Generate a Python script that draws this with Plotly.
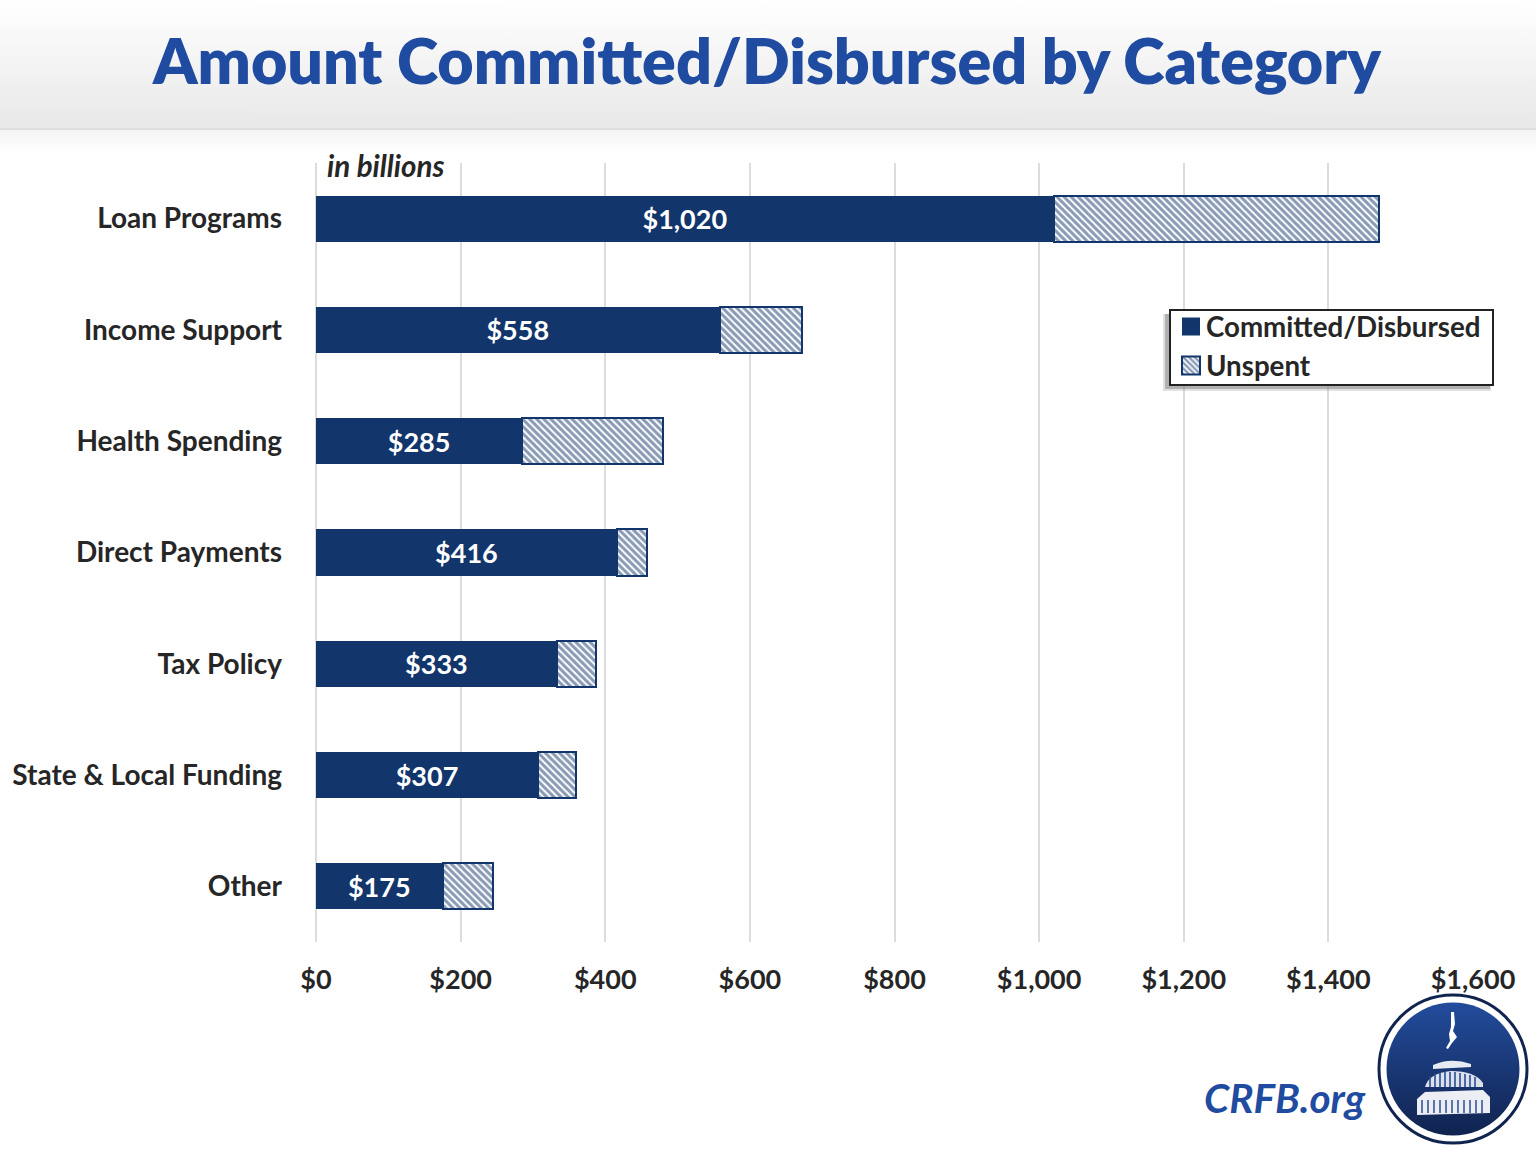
import base64
import plotly.graph_objects as go

categories = ["Loan Programs", "Income Support", "Health Spending", "Direct Payments",
              "Tax Policy", "State & Local Funding", "Other"]
committed = [1020, 558, 285, 416, 333, 307, 175]
unspent = [450, 114, 195, 42, 54, 53, 70]
tick_values = [0, 200, 400, 600, 800, 1000, 1200, 1400, 1600]
tick_labels = ["$0", "$200", "$400", "$600", "$800", "$1,000", "$1,200", "$1,400", "$1,600"]
committed_labels = ["$1,020", "$558", "$285", "$416", "$333", "$307", "$175"]

W, H = 1536, 1150
L, R, T, B = 316, 63, 163, 208
NAVY = "#12356b"
BLUE = "#1f4ba0"
INK = "#262626"
FONT = "Lato"


def px(x):
    return (x - L) / (W - L - R)


def py(y):
    return 1 - (y - T) / (H - T - B)


def uri(svg):
    return "data:image/svg+xml;base64," + base64.b64encode(svg.encode()).decode()


header_svg = """<svg xmlns="http://www.w3.org/2000/svg" width="1536" height="170" viewBox="0 0 1536 170">
<defs><linearGradient id="a" x1="0" y1="0" x2="0" y2="1"><stop offset="0" stop-color="#ffffff"/><stop offset="1" stop-color="#e8e8e8"/></linearGradient>
<linearGradient id="b" x1="0" y1="0" x2="0" y2="1"><stop offset="0" stop-color="#f3f3f3"/><stop offset="1" stop-color="#ffffff"/></linearGradient></defs>
<rect width="1536" height="128" fill="url(#a)"/><rect y="128" width="1536" height="2" fill="#dddddd"/><rect y="130" width="1536" height="24" fill="url(#b)"/></svg>"""

logo_svg = """<svg xmlns="http://www.w3.org/2000/svg" width="160" height="160" viewBox="0 0 160 160">
<defs><linearGradient id="g" x1="0" y1="0" x2="0" y2="1"><stop offset="0" stop-color="#234c9c"/><stop offset="1" stop-color="#10234f"/></linearGradient></defs>
<circle cx="80" cy="80" r="74" fill="#ffffff" stroke="#10244f" stroke-width="3"/>
<circle cx="80" cy="80" r="66.5" fill="url(#g)"/>
<path d="M78 23 L81 23 L82 35 L80 42 L84 48 L79 54 L75 60 L73 59 L77 52 L76 45 L78 38 Z" fill="#fff"/>
<path d="M60 76 Q78 68 98 75 L98 78 L60 80 Z" fill="#fff" opacity="0.9"/>
<path d="M52 98 Q56 84 78 82 Q102 82 110 94 L110 98 Z" fill="#fff" opacity="0.85"/>
<g stroke="#2a4f96" stroke-width="1.6"><path d="M57 87V98M62 85V98M67 84V98M72 83V98M77 83V98M82 83V98M87 84V98M92 85V98M97 86V98M102 88V98"/></g>
<path d="M44 110 L52 103 L110 101 L117 108 L117 124 L44 126 Z" fill="#fff" opacity="0.92"/>
<g stroke="#2a4f96" stroke-width="1.5"><path d="M49 111V124M55 111V124M61 111V124M67 111V124M73 111V124M79 111V124M85 111V124M91 111V124M97 111V124M103 111V124M109 111V124"/></g>
</svg>"""

fig = go.Figure()
fig.add_bar(
    name="Committed/Disbursed", y=categories, x=committed, orientation="h",
    marker=dict(color=NAVY, line=dict(width=0)),
    text=committed_labels, textposition="inside", insidetextanchor="middle",
    textangle=0, textfont=dict(family=FONT, size=27, color="white", weight="bold"),
    hoverinfo="x+y",
)
fig.add_bar(
    name="Unspent", y=categories, x=unspent, orientation="h",
    marker=dict(color="white", line=dict(color=NAVY, width=2),
                pattern=dict(shape="\\", fgcolor=NAVY, bgcolor="white", size=5, solidity=0.6)),
    hoverinfo="x+y",
)

annotations = [
    dict(text="Amount Committed/Disbursed by Category", xref="paper", yref="paper",
         x=px(767), y=py(60), xanchor="center", yanchor="middle", showarrow=False,
         font=dict(family=FONT, size=62.7, color=BLUE, weight=800)),
    dict(text="<b><i>in billions</i></b>", xref="paper", yref="paper",
         x=px(325), y=py(165), xanchor="left", yanchor="middle", showarrow=False,
         font=dict(family=FONT, size=29.5, color=INK)),
    dict(text="<b><i>CRFB.org</i></b>", xref="paper", yref="paper",
         x=px(1202), y=py(1097), xanchor="left", yanchor="middle", showarrow=False,
         font=dict(family=FONT, size=40.5, color=BLUE)),
]

images = [
    dict(source=uri(header_svg), xref="paper", yref="paper", x=px(0), y=py(0),
         sizex=W / (W - L - R), sizey=170 / (H - T - B), xanchor="left", yanchor="top",
         sizing="stretch", layer="below"),
    dict(source=uri(logo_svg), xref="paper", yref="paper", x=px(1373), y=py(989),
         sizex=160 / (W - L - R), sizey=160 / (H - T - B), xanchor="left", yanchor="top",
         sizing="stretch", layer="above"),
]


def box(x0, y0, x1, y1, fill, line=None):
    return dict(type="rect", xref="paper", yref="paper", x0=px(x0), x1=px(x1), y0=py(y0), y1=py(y1),
                fillcolor=fill, line=line or dict(width=0), layer="above")


shapes = [
    box(1163, 314, 1491, 391, "rgba(120,120,120,0.22)"),
    box(1165, 314, 1490, 389, "rgba(90,90,90,0.35)"),
    box(1170, 310, 1493, 385, "white", dict(color="#222222", width=2)),
]

fig.update_layout(
    width=W, height=H, barmode="stack", bargap=0.586,
    margin=dict(l=L, r=R, t=T, b=B, autoexpand=False),
    paper_bgcolor="white", plot_bgcolor="rgba(0,0,0,0)",
    font=dict(family=FONT, color=INK),
    xaxis=dict(range=[0, 1600], tickmode="array", tickvals=tick_values, ticktext=tick_labels,
               showgrid=True, gridcolor="#dcdcdc", gridwidth=2, showline=False,
               zeroline=True, zerolinecolor="#dcdcdc", zerolinewidth=2,
               ticks="", ticklabelstandoff=19,
               tickfont=dict(family=FONT, size=27, color=INK, weight="bold")),
    yaxis=dict(autorange="reversed", categoryorder="array", categoryarray=categories,
               showgrid=False, zeroline=False, showline=False, ticks="", ticklabelstandoff=33,
               tickfont=dict(family=FONT, size=28, color=INK, weight="bold")),
    legend=dict(x=px(1166), y=py(302), xanchor="left", yanchor="top", bgcolor="rgba(0,0,0,0)",
                borderwidth=0, traceorder="normal",
                font=dict(family=FONT, size=27.7, color=INK, weight="bold"),
                itemwidth=30, tracegroupgap=0),
    annotations=annotations, images=images, shapes=shapes, showlegend=True,
)
fig.write_html(
    "out.html",
    config={"displayModeBar": False},
    post_script="document.body.style.margin='0';"
                "var s=document.createElement('style');"
                "s.textContent=\"g.legendpoints path{d:path('M14,9H-4V-9H14Z') !important;}\";"
                "document.head.appendChild(s);",
)
